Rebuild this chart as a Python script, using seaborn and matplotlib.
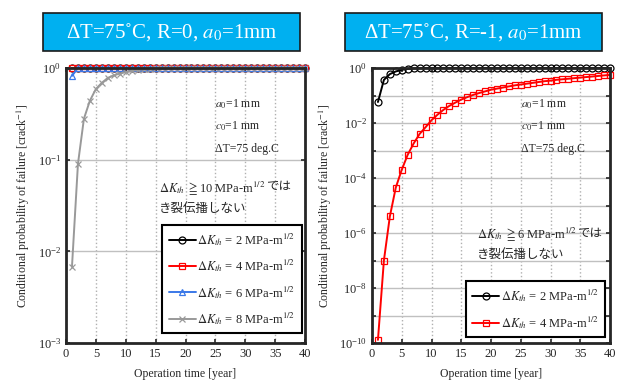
import numpy as np
import pandas as pd
import matplotlib
import matplotlib.pyplot as plt
import seaborn as sns
from matplotlib.patches import Rectangle
from matplotlib.ticker import NullLocator

years = list(range(1, 41))

# left: dT=75C, R=0
left_k2 = [1.0] * 40
left_k4 = [1.0] * 40
left_k6 = [0.82] + [1.0] * 39
left_k8 = [0.0068, 0.09, 0.28, 0.44, 0.59, 0.69, 0.78, 0.83, 0.87, 0.90,
           0.93, 0.95, 0.97, 0.98, 0.99] + [1.0] * 25

# right: dT=75C, R=-1
right_k2 = [0.058, 0.37, 0.60, 0.75, 0.86, 0.93, 0.97, 0.99] + [1.0] * 32
right_k4 = [1.3e-10, 1.0e-7, 4.0e-6, 4.5e-5, 2.0e-4, 7.0e-4, 1.8e-3, 4.0e-3, 7.0e-3, 0.0126,
            0.020, 0.030, 0.042, 0.055, 0.071, 0.087, 0.105, 0.123, 0.141, 0.162,
            0.178, 0.195, 0.214, 0.234, 0.251, 0.269, 0.288, 0.309, 0.331, 0.347,
            0.372, 0.389, 0.407, 0.427, 0.447, 0.468, 0.490, 0.513, 0.537, 0.562]

sns.set_style("ticks")
plt.rcParams['font.family'] = ['Liberation Serif', 'Noto Sans CJK JP', 'DejaVu Sans']
plt.rcParams['mathtext.fontset'] = 'stix'

fig = plt.figure(figsize=(6.2, 3.85), dpi=100)
W, H = 620, 385


def px_axes(x0, y0, x1, y1):
    return fig.add_axes([x0 / W, 1 - y1 / H, (x1 - x0) / W, (y1 - y0) / H])


ax1 = px_axes(66, 68, 305, 343)
ax2 = px_axes(372, 68, 610, 343)

styles = [
    ('black', 'o', '2'),
    ('red', 's', '4'),
    ('#3a78e8', '^', '6'),
    ('#999999', 'x', '8'),
]


def draw(ax, series):
    for vals, (col, mk, k) in zip(series, styles):
        sns.lineplot(x=years, y=vals, ax=ax, color=col, marker=mk, markersize=5,
                     markerfacecolor='none' if mk != 'x' else col,
                     markeredgecolor=col, markeredgewidth=0.9, linewidth=1.4,
                     clip_on=False, zorder=3,
                     label=r'$\Delta K_{th}$ = ' + k + r' MPa-m$^{1/2}$')


draw(ax1, [left_k2, left_k4, left_k6, left_k8])
draw(ax2, [right_k2, right_k4])

for ax in (ax1, ax2):
    ax.set_yscale('log')
    ax.set_xlim(0, 40)
    ax.set_xticks(range(0, 41, 5))
    ax.set_xlabel('Operation time [year]', fontsize=8.5, labelpad=6)
    ax.set_ylabel(r'Conditional probability of failure [crack$^{-1}$]', fontsize=8.5)
    ax.tick_params(axis='both', which='both', direction='in', top=True, right=True,
                   labelsize=9, width=1.2, length=3)
    ax.grid(True, axis='x', linestyle=':', color='#b0b0b0', linewidth=1)
    ax.grid(True, axis='y', which='both', linestyle='-', color='#c0c0c0', linewidth=1)
    for sp in ax.spines.values():
        sp.set_linewidth(2)
        sp.set_zorder(4)

ax1.set_ylim(1e-3, 1)
ax1.set_yticks([1e-3, 1e-2, 1e-1, 1])
ax1.yaxis.set_minor_locator(NullLocator())

ax2.set_ylim(1e-10, 1)
ax2.set_yticks([1e-10, 1e-8, 1e-6, 1e-4, 1e-2, 1])
ax2.set_yticks([1e-9, 1e-7, 1e-5, 1e-3, 1e-1], minor=True)
ax2.tick_params(axis='y', which='minor', labelleft=False)

leg_kw = dict(fontsize=9, frameon=True, fancybox=False, edgecolor='black',
              handlelength=2.2, handletextpad=0.1, borderpad=0.5, labelspacing=0.75,
              borderaxespad=0)
l1 = ax1.legend(loc='lower right', bbox_to_anchor=(0.987, 0.036), **leg_kw)
l2 = ax2.legend(loc='lower right', bbox_to_anchor=(0.979, 0.022), **leg_kw)
for lg in (l1, l2):
    lg.get_frame().set_linewidth(1.5)
    lg.get_frame().set_alpha(1)
    lg.set_zorder(5)

# annotations
for ax in (ax1, ax2):
    ax.text(0.625, 0.855, r'$a_0$=1 mm', transform=ax.transAxes, fontsize=8.5)
    ax.text(0.625, 0.775, r'$c_0$=1 mm', transform=ax.transAxes, fontsize=8.5)
    ax.text(0.625, 0.695, 'ΔT=75 deg.C', transform=ax.transAxes, fontsize=8.5)


def jp_note(ax, x, y, k):
    t = ax.text(x, y, r'$\Delta K_{th}$ $\geqq$' + k + r' MPa-m$^{1/2}$',
                transform=ax.transAxes, fontsize=9)
    ax.annotate('では', xy=(1, 0.18), xycoords=t, va='bottom', fontsize=9)
    ax.text(x, y - 0.075, 'き裂伝播しない', transform=ax.transAxes, fontsize=9)


jp_note(ax1, 0.39, 0.55, '10')
jp_note(ax2, 0.44, 0.38, '6')

# title boxes
for (x0, x1), title in (((43, 300), r'ΔT=75˚C, R=0, $a_0$=1mm'),
                        ((345, 602), r'ΔT=75˚C, R=-1, $a_0$=1mm')):
    y0, y1 = 13, 51
    fig.patches.append(Rectangle((x0 / W, 1 - y1 / H), (x1 - x0) / W, (y1 - y0) / H,
                                 transform=fig.transFigure, facecolor='#00b0f0',
                                 edgecolor='#1a1a1a', linewidth=1.2))
    fig.text((x0 + x1) / 2 / W, 1 - (y0 + y1) / 2 / H, title, color='white',
             fontsize=15, ha='center', va='center')

fig.savefig('out.png', dpi=100)
